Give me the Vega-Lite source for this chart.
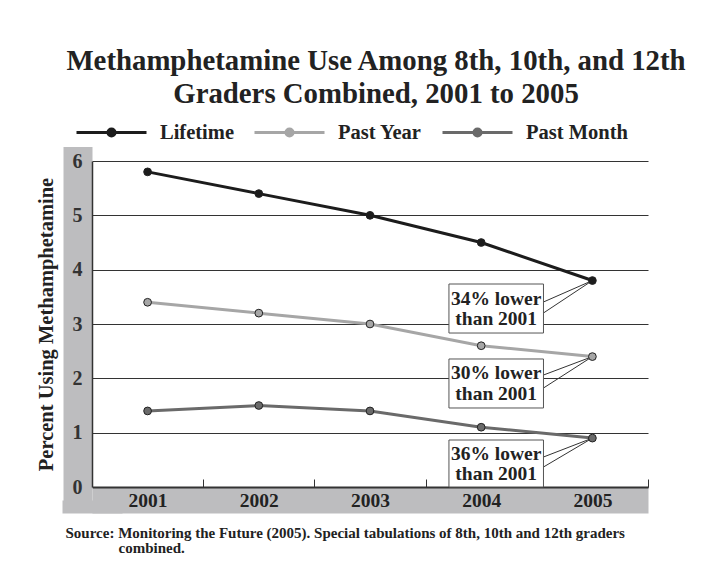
{
  "$schema": "https://vega.github.io/schema/vega-lite/v6.json",
  "width": 556,
  "height": 326,
  "autosize": {"type": "none"},
  "padding": {"left": 92, "top": 161, "right": 63, "bottom": 90},
  "background": "white",
  "config": {"font": "Liberation Serif", "view": {"stroke": null}},
  "title": {
    "text": ["Methamphetamine Use Among 8th, 10th, and 12th", "Graders Combined, 2001 to 2005"],
    "font": "Liberation Serif",
    "fontSize": 28.8,
    "fontWeight": "bold",
    "color": "#222222",
    "lineHeight": 33,
    "anchor": "middle",
    "frame": "group",
    "offset": -13,
    "dx": 6
  },
  "datasets": {
    "series": [
      {"year": 2001, "value": 5.8, "series": "Lifetime"},
      {"year": 2002, "value": 5.4, "series": "Lifetime"},
      {"year": 2003, "value": 5.0, "series": "Lifetime"},
      {"year": 2004, "value": 4.5, "series": "Lifetime"},
      {"year": 2005, "value": 3.8, "series": "Lifetime"},
      {"year": 2001, "value": 3.4, "series": "Past Year"},
      {"year": 2002, "value": 3.2, "series": "Past Year"},
      {"year": 2003, "value": 3.0, "series": "Past Year"},
      {"year": 2004, "value": 2.6, "series": "Past Year"},
      {"year": 2005, "value": 2.4, "series": "Past Year"},
      {"year": 2001, "value": 1.4, "series": "Past Month"},
      {"year": 2002, "value": 1.5, "series": "Past Month"},
      {"year": 2003, "value": 1.4, "series": "Past Month"},
      {"year": 2004, "value": 1.1, "series": "Past Month"},
      {"year": 2005, "value": 0.9, "series": "Past Month"}
    ],
    "boxes": [
      {"series": "Lifetime", "x": 2003.71, "x2": 2004.56, "y": 3.736, "y2": 2.834, "xc": 2004.135, "yc": 3.285, "label": "34% lower\nthan 2001"},
      {"series": "Past Year", "x": 2003.71, "x2": 2004.56, "y": 2.356, "y2": 1.454, "xc": 2004.135, "yc": 1.905, "label": "30% lower\nthan 2001"},
      {"series": "Past Month", "x": 2003.71, "x2": 2004.56, "y": 0.865, "y2": 0.0, "xc": 2004.135, "yc": 0.43, "label": "36% lower\nthan 2001"}
    ],
    "callouts": [
      {"series": "Lifetime", "x": 2004.56, "y": 3.405, "x2": 2005, "y2": 3.8},
      {"series": "Lifetime", "x": 2004.56, "y": 3.203, "x2": 2005, "y2": 3.8},
      {"series": "Past Year", "x": 2004.56, "y": 2.061, "x2": 2005, "y2": 2.4},
      {"series": "Past Year", "x": 2004.56, "y": 1.822, "x2": 2005, "y2": 2.4},
      {"series": "Past Month", "x": 2004.56, "y": 0.552, "x2": 2005, "y2": 0.9},
      {"series": "Past Month", "x": 2004.56, "y": 0.368, "x2": 2005, "y2": 0.9}
    ]
  },
  "layer": [
    {
      "data": {"name": "series"},
      "mark": {"type": "line", "strokeWidth": 3},
      "encoding": {
        "x": {
          "field": "year", "type": "quantitative",
          "scale": {"domain": [2000.5, 2005.5], "nice": false, "zero": false},
          "axis": {
            "orient": "bottom", "offset": 13, "title": null, "labels": false, "grid": false,
            "domain": true, "domainColor": "#bdbdbf", "domainWidth": 26, "domainCap": "butt",
            "ticks": true, "values": [2000.5], "tickColor": "#bdbdbf", "tickSize": 13, "tickWidth": 60, "tickCap": "butt"
          }
        },
        "y": {
          "field": "value", "type": "quantitative",
          "scale": {"domain": [0, 6], "nice": false, "zero": false},
          "axis": {
            "orient": "left", "offset": 14.5, "title": null, "labels": false, "grid": false, "ticks": false,
            "domain": true, "domainColor": "#bdbdbf", "domainWidth": 29, "domainCap": "square"
          }
        },
        "color": {
          "field": "series", "type": "nominal",
          "scale": {"domain": ["Lifetime", "Past Year", "Past Month"], "range": ["#1c1c1c", "#a6a6a6", "#6a6a6a"]},
          "legend": {
            "orient": "none", "legendX": -17, "legendY": -65, "direction": "horizontal", "columns": 3,
            "title": null, "padding": 0,
            "symbolType": "M-1,0H-0.1M0.1,0H1M0.1,0A0.1,0.1,0,1,1,-0.1,0A0.1,0.1,0,1,1,0.1,0Z",
            "symbolSize": 4900, "symbolStrokeWidth": 3,
            "labelFont": "Liberation Serif", "labelFontSize": 20.5, "labelFontWeight": "bold", "labelColor": "#222222",
            "labelOffset": 12, "columnPadding": 14,
            "encode": {
              "symbols": {
                "update": {
                  "fill": {"scale": "color", "field": "value"},
                  "stroke": {"scale": "color", "field": "value"},
                  "opacity": {"value": 1}
                }
              }
            }
          }
        }
      }
    },
    {
      "data": {"name": "callouts"},
      "mark": {"type": "rule", "color": "#333333", "strokeWidth": 1},
      "encoding": {
        "x": {
          "field": "x", "type": "quantitative",
          "scale": {"domain": [2000.5, 2005.5], "nice": false, "zero": false},
          "axis": {
            "orient": "bottom", "values": [2001, 2002, 2003, 2004, 2005], "format": "d",
            "ticks": false, "grid": false, "domain": true, "domainColor": "#333333", "domainWidth": 2,
            "labelFont": "Liberation Serif", "labelFontSize": 19.5, "labelFontWeight": "bold", "labelColor": "#222222",
            "labelBaseline": "middle", "labelPadding": 13,
            "title": "Source: Monitoring the Future (2005). Special tabulations of 8th, 10th and 12th graders",
            "titleX": -27, "titleY": 45, "titleAlign": "left", "titleBaseline": "middle", "titleAngle": 0,
            "titleFont": "Liberation Serif", "titleFontSize": 15, "titleFontWeight": "bold", "titleColor": "#222222",
            "titleLimit": 2000
          }
        },
        "x2": {"field": "x2"},
        "y": {
          "field": "y", "type": "quantitative",
          "scale": {"domain": [0, 6], "nice": false, "zero": false},
          "axis": {
            "orient": "left", "values": [0, 1, 2, 3, 4, 5, 6],
            "ticks": false, "grid": true, "gridColor": "#333333", "gridWidth": 1,
            "domain": true, "domainColor": "#333333", "domainWidth": 1.5,
            "labelFont": "Liberation Serif", "labelFontSize": 20, "labelFontWeight": "bold", "labelColor": "#333333",
            "labelAlign": "center", "labelBaseline": "middle", "labelPadding": 15,
            "title": "Percent Using Methamphetamine",
            "titleX": -46, "titleY": 163, "titleAngle": -90, "titleAlign": "center", "titleBaseline": "middle",
            "titleFont": "Liberation Serif", "titleFontSize": 20.5, "titleFontWeight": "bold", "titleColor": "#222222"
          }
        },
        "y2": {"field": "y2"}
      }
    },
    {
      "data": {"name": "series"},
      "mark": {"type": "point", "filled": true, "size": 60, "stroke": "#222222", "strokeWidth": 1, "opacity": 1},
      "encoding": {
        "x": {
          "field": "year", "type": "quantitative",
          "scale": {"domain": [2000.5, 2005.5], "nice": false, "zero": false},
          "axis": {
            "orient": "bottom", "offset": -8, "values": [2001.5, 2002.5, 2003.5, 2004.5, 2005.5],
            "labels": false, "grid": false, "domain": false,
            "ticks": true, "tickSize": 8, "tickColor": "#333333", "tickWidth": 1,
            "title": "combined.",
            "titleX": 26, "titleY": 68, "titleAlign": "left", "titleBaseline": "middle", "titleAngle": 0,
            "titleFont": "Liberation Serif", "titleFontSize": 15, "titleFontWeight": "bold", "titleColor": "#222222",
            "titleLimit": 2000
          }
        },
        "y": {
          "field": "value", "type": "quantitative",
          "scale": {"domain": [0, 6], "nice": false, "zero": false},
          "axis": null
        },
        "color": {"field": "series", "type": "nominal", "legend": null}
      }
    },
    {
      "data": {"name": "boxes"},
      "mark": {"type": "rect", "fill": "white", "stroke": "#555555", "strokeWidth": 1},
      "encoding": {
        "x": {"field": "x", "type": "quantitative", "scale": {"domain": [2000.5, 2005.5], "nice": false, "zero": false}, "axis": null},
        "x2": {"field": "x2"},
        "y": {"field": "y", "type": "quantitative", "scale": {"domain": [0, 6], "nice": false, "zero": false}, "axis": null},
        "y2": {"field": "y2"}
      }
    },
    {
      "data": {"name": "boxes"},
      "mark": {"type": "text", "align": "center", "baseline": "middle", "fontSize": 19.5, "fontWeight": "bold", "color": "#222222", "lineBreak": "\n", "lineHeight": 20.5, "dy": -10},
      "encoding": {
        "x": {"field": "xc", "type": "quantitative", "scale": {"domain": [2000.5, 2005.5], "nice": false, "zero": false}, "axis": null},
        "y": {"field": "yc", "type": "quantitative", "scale": {"domain": [0, 6], "nice": false, "zero": false}, "axis": null},
        "text": {"field": "label"}
      }
    }
  ],
  "resolve": {"axis": {"x": "independent", "y": "independent"}}
}
